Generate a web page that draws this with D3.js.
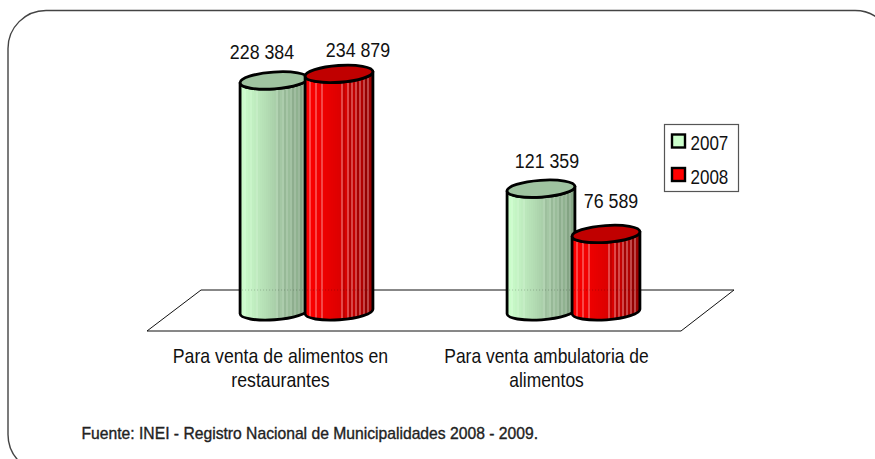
<!DOCTYPE html>
<html><head><meta charset="utf-8">
<script src="https://cdnjs.cloudflare.com/ajax/libs/d3/7.8.5/d3.min.js"></script>
<style>html,body{margin:0;padding:0;background:#fff;overflow:hidden}svg{display:block}</style>
</head><body><svg id="c" width="875" height="459"></svg>
<script>
const categories = ["Para venta de alimentos en restaurantes", "Para venta ambulatoria de alimentos"];
const categoryLines = [["Para venta de alimentos en", "restaurantes"], ["Para venta ambulatoria de", "alimentos"]];
const seriesNames = ["2007", "2008"];
const values2007 = [228384, 121359];
const values2008 = [234879, 76589];
const sourceText = "Fuente: INEI - Registro Nacional de Municipalidades 2008 - 2009.";

const FONT = "'Liberation Sans',Arial,sans-serif";
const svg = d3.select("#c");
const fmt = d3.formatLocale({decimal: ",", thousands: " ", grouping: [3], currency: ["", ""]}).format(",d");

const y = d3.scaleLinear().domain([0, 240000]).range([311.4, 68.7]);
const xCat = d3.scalePoint().domain(categories).range([306.5, 573.5]);
const xSer = d3.scaleBand().domain(seriesNames).range([-65, 65]);
const rx = 34, ry = 8.4, tilt = -4;
const tiltRad = tilt * Math.PI / 180;

// shaded column fills with the fine vertical banding of the original
const BANDS = 34;
const lightBands = [2, 5, 8, 18, 21, 23, 25, 27, 29, 31];
const darkBands = [19, 22, 26, 30];
const defs = svg.append("defs");
[["g2007", ["#ccffcc", "#b6e0b6", "#a4c8a4", "#84a484"], 0.12], ["g2008", ["#ff0000", "#e80000", "#d80000", "#980000"], 0.28]].forEach(([id, ramp, amt]) => {
  const g = defs.append("linearGradient").attr("id", id).attr("x1", 0).attr("x2", 1).attr("y1", 0).attr("y2", 0);
  const base = d3.scaleLinear().domain([0, 0.35, 0.6, 1]).range(ramp).interpolate(d3.interpolateRgb);
  d3.range(BANDS).forEach(i => {
    let c = base(i / (BANDS - 1));
    if (lightBands.includes(i)) c = d3.interpolateRgb(c, "#fff")(amt);
    if (darkBands.includes(i)) c = d3.interpolateRgb(c, "#000")(amt * 0.4);
    g.append("stop").attr("offset", i / BANDS).attr("stop-color", c);
    g.append("stop").attr("offset", (i + 1) / BANDS).attr("stop-color", c);
  });
});

function narrowText(parent, x, yy, txt, size, sx, anchor) {
  return parent.append("text").attr("transform", `translate(${x},${yy}) scale(${sx},1)`)
    .attr("text-anchor", anchor || "middle").attr("font-family", FONT).attr("font-size", size).attr("fill", "#111").text(txt);
}

// outer rounded frame
svg.append("rect").attr("x", 8).attr("y", 10.5).attr("width", 885).attr("height", 462).attr("rx", 38).attr("ry", 38)
  .attr("fill", "#fff").attr("stroke", "#444").attr("stroke-width", 1.4);

// floor
const floor = [[201, 290], [734, 290], [681, 331], [147, 331]];
svg.append("path").attr("d", d3.line()(floor) + "Z").attr("fill", "#fff").attr("stroke", "#111").attr("stroke-width", 1);

const seriesData = [values2007, values2008];
const topFill = ["#9fc3a0", "#c00000"];
const labelOffset = [[[-12, -21], [19, -17]], [[6, -20.5], [5, -26]]];

categories.forEach((cat, ci) => {
  seriesNames.forEach((s, si) => {
    const v = seriesData[si][ci];
    const cx = xCat(cat) + xSer(s) + xSer.bandwidth() / 2;
    const yT = y(v), yB = y(0);
    const dx = rx * Math.cos(tiltRad), dy = rx * Math.sin(tiltRad);
    const g = svg.append("g");
    const side = `M${cx - dx},${yT - dy} L${cx - dx},${yB - dy} A${rx},${ry} ${tilt} 0 0 ${cx + dx},${yB + dy} L${cx + dx},${yT + dy} A${rx},${ry} ${tilt} 0 1 ${cx - dx},${yT - dy} Z`;
    g.append("path").attr("d", side).attr("fill", `url(#g${s})`).attr("stroke", "#000").attr("stroke-width", 2.8).attr("stroke-linejoin", "round");
    g.append("ellipse").attr("rx", rx).attr("ry", ry).attr("transform", `translate(${cx},${yT}) rotate(${tilt})`)
      .attr("fill", topFill[si]).attr("stroke", "#000").attr("stroke-width", 2.8);
    // floor back edge showing faintly through the column
    g.append("line").attr("x1", cx - dx + 2).attr("x2", cx + dx - 2).attr("y1", 290).attr("y2", 290)
      .attr("stroke", "#000").attr("stroke-opacity", 0.22).attr("stroke-dasharray", "1 2");
    const off = labelOffset[ci][si];
    narrowText(svg, cx + off[0], yT + off[1], fmt(v), 20, 0.89);
  });
});

// category labels
const catCenter = d3.scalePoint().domain(categories).range([280.5, 546.5]);
categories.forEach((cat, ci) => {
  categoryLines[ci].forEach((ln, li) => {
    narrowText(svg, catCenter(cat), 363 + li * 24, ln, 20, ci === 0 ? 0.885 : 0.872);
  });
});

// legend
svg.append("rect").attr("x", 664.5).attr("y", 124.5).attr("width", 74).attr("height", 67).attr("fill", "#fff").attr("stroke", "#555").attr("stroke-width", 1.2);
const swatch = ["#ccffcc", "#ff0000"];
seriesNames.forEach((s, i) => {
  const yy = 134.5 + i * 33.5;
  svg.append("rect").attr("x", 672).attr("y", yy).attr("width", 13).attr("height", 13).attr("fill", swatch[i]).attr("stroke", "#000").attr("stroke-width", 2.4);
  narrowText(svg, 690.5, yy + 15.5, s, 20, 0.85, "start");
});

// source: medium weight, fitted to the original run length
const src = narrowText(svg, 81.5, 439, sourceText, 16, 1, "start").attr("fill", "#222").attr("stroke", "#222").attr("stroke-width", 0.35);
const srcLen = src.node().getComputedTextLength();
src.attr("transform", `translate(81.5,439) scale(${457 / srcLen},1)`);
</script></body></html>
